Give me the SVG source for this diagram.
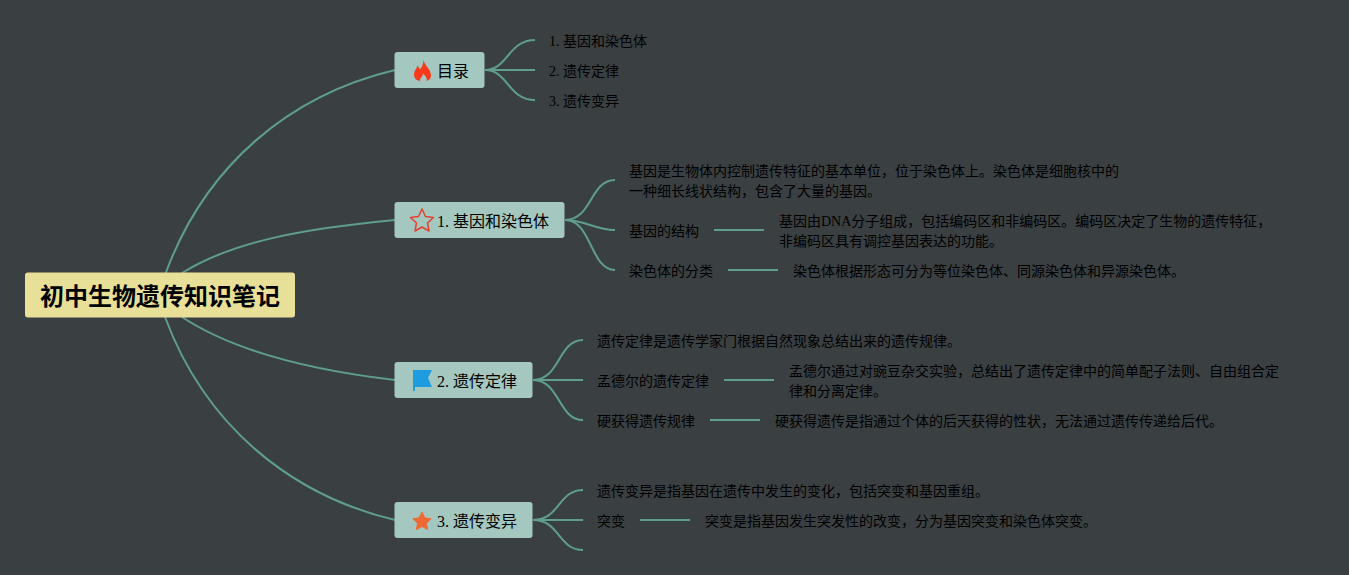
<svg xmlns="http://www.w3.org/2000/svg" width="1349" height="575" viewBox="0 0 1349 575">
<style>
text{font-family:"Liberation Serif","Noto Sans CJK SC",serif;fill:#000}
.l{font-size:14px}
.b{font-size:16px}
.r{font-size:24px;font-weight:700;font-family:"Liberation Sans","Noto Sans CJK SC",sans-serif}
.n{fill:#a4c8c0}
#connectors path{fill:none;stroke:#5f9e8c;stroke-width:2;stroke-linecap:butt}
</style>
<rect width="1349" height="575" fill="#3a3f42"/>
<g id="connectors">
<path d="M165 275C205 165 290 95 395 70"/>
<path d="M182 273C235 240 310 228 395 220"/>
<path d="M182 317C235 352 310 370 395 380"/>
<path d="M165 317C205 425 290 495 395 520"/>
<path d="M485 70C508 70 508 40 535 40"/>
<path d="M485 70H535"/>
<path d="M485 70C508 70 508 100 535 100"/>
<path d="M565 220C592 220 590 180 615 180"/>
<path d="M565 220C585 220 595 230 615 230"/>
<path d="M565 220C592 220 590 270 615 270"/>
<path d="M533 380C560 380 558 340 583 340"/>
<path d="M533 380H583"/>
<path d="M533 380C560 380 558 420 583 420"/>
<path d="M533 520C560 520 558 490 583 490"/>
<path d="M533 520H583"/>
<path d="M533 520C560 520 558 550 583 550"/>
<path d="M714 230H764"/>
<path d="M728 270H778"/>
<path d="M724 380H774"/>
<path d="M710 420H760"/>
<path d="M640 520H690"/>
</g>
<g id="root"><rect x="25" y="272.500" width="270" height="45" rx="3" fill="#e8e098"/><text class="r" x="40" y="305">初中生物遗传知识笔记</text></g>
<g id="topic-toc"><rect class="n" x="394.500" y="52" width="90" height="36" rx="3"/>
<path d="M423.500 60C424 65 431 69 431 75.500C431 78.500 429 80.500 426.500 81C427.500 78.500 426 76 423 73.500C423 76.500 419.500 78 420 81C416.500 80.500 414 78 414 74.500C414 71 416.500 69 417.500 65.500C418.500 67 419.500 68.500 420 69.500C422 67 423.500 63.500 423.500 60Z" fill="#f8391a"/><text class="b" x="437" y="77">目录</text></g>
<g id="toc-1"><text class="l" x="549" y="46">1. 基因和染色体</text></g>
<g id="toc-2"><text class="l" x="549" y="76">2. 遗传定律</text></g>
<g id="toc-3"><text class="l" x="549" y="106">3. 遗传变异</text></g>
<g id="topic-1"><rect class="n" x="394.500" y="202" width="170" height="36" rx="3"/>
<path d="M422 209L425.500 216.500 433.500 217.500 427.500 223 429 231 422 227 415 231 416.500 223 410.500 217.500 418.500 216.500Z" fill="none" stroke="#e5402f" stroke-width="1.500" stroke-linejoin="round"/><text class="b" x="437" y="227">1. 基因和染色体</text></g>
<g id="n1a"><text class="l" x="629" y="176">基因是生物体内控制遗传特征的基本单位，位于染色体上。染色体是细胞核中的</text><text class="l" x="629" y="196">一种细长线状结构，包含了大量的基因。</text></g>
<g id="n1b"><text class="l" x="629" y="236">基因的结构</text></g>
<g id="n1b1"><text class="l" x="779" y="226">基因由DNA分子组成，包括编码区和非编码区。编码区决定了生物的遗传特征，</text><text class="l" x="779" y="246">非编码区具有调控基因表达的功能。</text></g>
<g id="n1c"><text class="l" x="629" y="276">染色体的分类</text></g>
<g id="n1c1"><text class="l" x="793" y="276">染色体根据形态可分为等位染色体、同源染色体和异源染色体。</text></g>
<g id="topic-2"><rect class="n" x="394.500" y="362" width="138" height="36" rx="3"/>
<path d="M413 370H432L428 378 432 387H415V391H413Z" fill="#1f9be0"/><text class="b" x="437" y="387">2. 遗传定律</text></g>
<g id="n2a"><text class="l" x="597" y="346">遗传定律是遗传学家门根据自然现象总结出来的遗传规律。</text></g>
<g id="n2b"><text class="l" x="597" y="386">孟德尔的遗传定律</text></g>
<g id="n2b1"><text class="l" x="789" y="376">孟德尔通过对豌豆杂交实验，总结出了遗传定律中的简单配子法则、自由组合定</text><text class="l" x="789" y="396">律和分离定律。</text></g>
<g id="n2c"><text class="l" x="597" y="426">硬获得遗传规律</text></g>
<g id="n2c1"><text class="l" x="775" y="426">硬获得遗传是指通过个体的后天获得的性状，无法通过遗传传递给后代。</text></g>
<g id="topic-3"><rect class="n" x="394.500" y="502" width="138" height="36" rx="3"/>
<path d="M422 512L424.800 517.800 431 518.700 426.500 523.200 427.600 529.500 422 526.500 416.400 529.500 417.500 523.200 413 518.700 419.200 517.800Z" fill="#ee6a35" stroke="#ee6a35" stroke-width="1" stroke-linejoin="round"/><text class="b" x="437" y="527">3. 遗传变异</text></g>
<g id="n3a"><text class="l" x="597" y="496">遗传变异是指基因在遗传中发生的变化，包括突变和基因重组。</text></g>
<g id="n3b"><text class="l" x="597" y="526">突变</text></g>
<g id="n3b1"><text class="l" x="705" y="526">突变是指基因发生突发性的改变，分为基因突变和染色体突变。</text></g>
</svg>
